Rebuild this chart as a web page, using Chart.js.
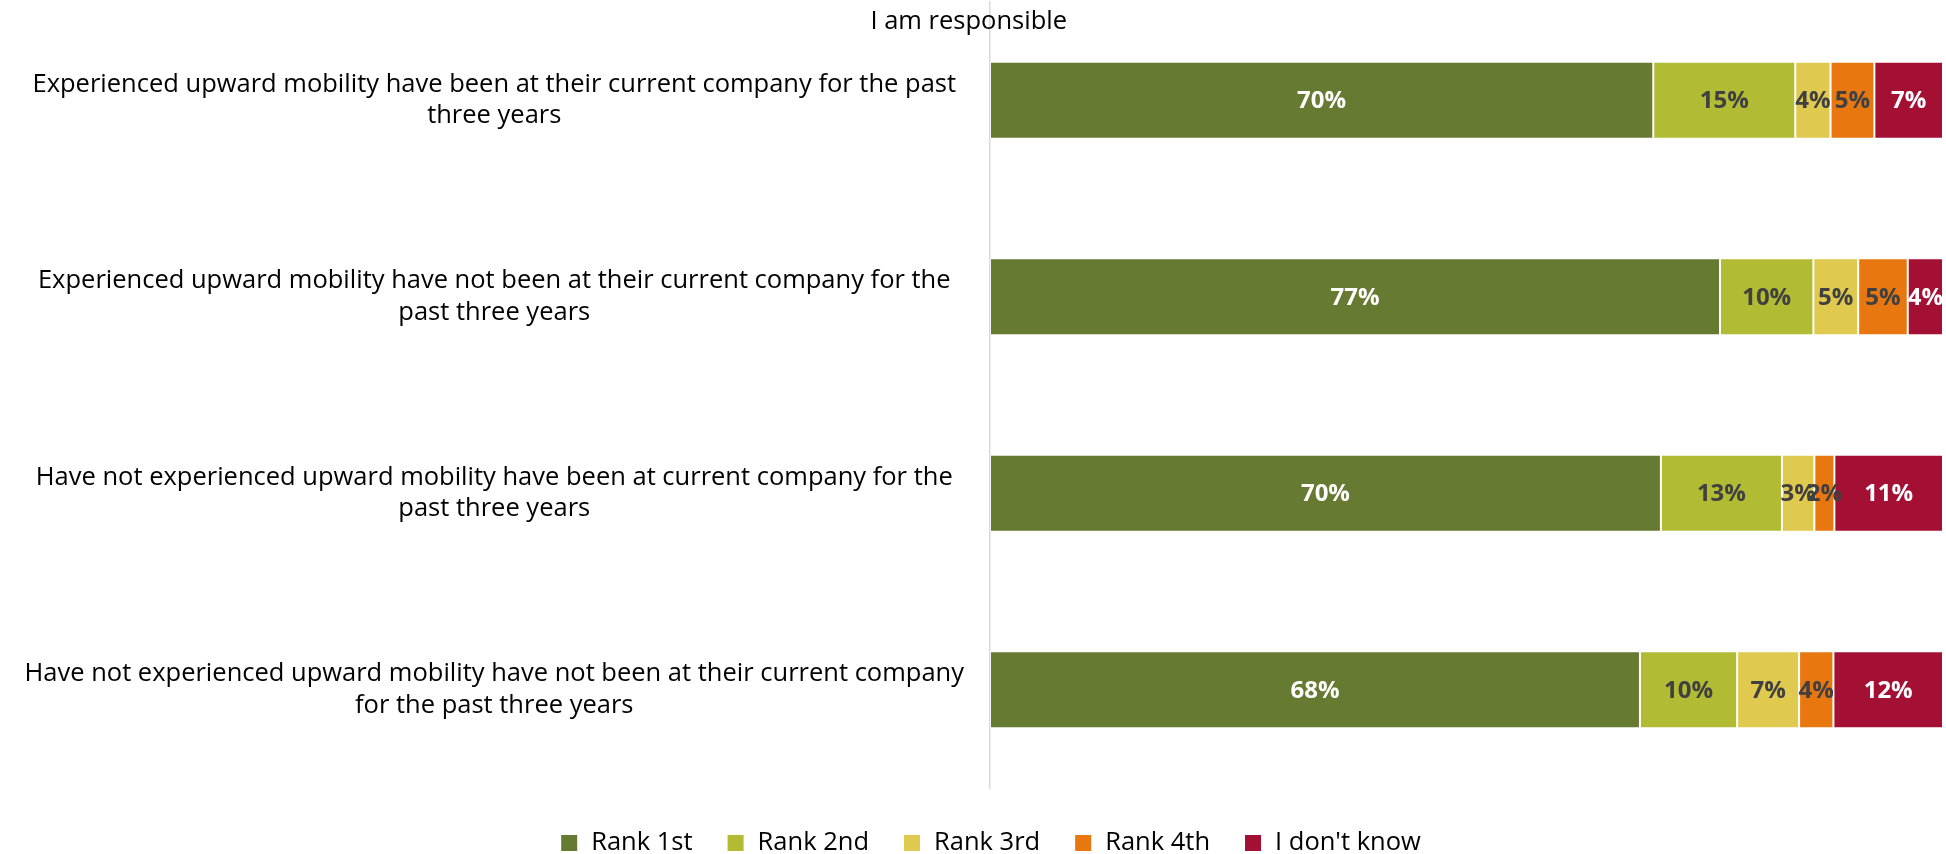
<!DOCTYPE html>
<html>
<head>
<meta charset="utf-8">
<title>I am responsible</title>
<script src="https://cdn.jsdelivr.net/npm/chart.js@4.4.0/dist/chart.umd.min.js"></script>
<style>
  html, body { margin: 0; padding: 0; background: #fff; }
  #wrap { width: 1946px; height: 854px; }
</style>
</head>
<body>
<div id="wrap"><canvas id="chart" width="1946" height="854"></canvas></div>
<script>
// categories (two lines each, as in the original)
const CATEGORIES = [
  ["Experienced upward mobility have been at their current company for the past", "three years"],
  ["Experienced upward mobility have not been at their current company for the", "past three years"],
  ["Have not experienced upward mobility have been at current company for the", "past three years"],
  ["Have not experienced upward mobility have not been at their current company", "for the past three years"]
];

// shares in %
const RANK_1ST = [69.6, 76.6, 70.4, 68.2];
const RANK_2ND = [14.9, 9.8, 12.7, 10.2];
const RANK_3RD = [3.7, 4.7, 3.4, 6.5];
const RANK_4TH = [4.6, 5.2, 2.1, 3.6];
const DONT_KNOW = [7.2, 3.7, 11.4, 11.5];

const SERIES_NAMES = ["Rank 1st", "Rank 2nd", "Rank 3rd", "Rank 4th", "I don't know"];
const SERIES_COLORS = ["#667a32", "#b1bb33", "#dfc94e", "#e8770f", "#a31034"];
const LABEL_COLORS = ["#ffffff", "#404040", "#404040", "#404040", "#ffffff"];

const TITLE = "I am responsible";
const FONT = "'Open Sans', 'Noto Sans', sans-serif";
const FONT_SIZE = 25.5;

const seriesValues = [RANK_1ST, RANK_2ND, RANK_3RD, RANK_4TH, DONT_KNOW];

// percent labels centred in each segment
const barLabels = {
  id: "barLabels",
  afterDatasetsDraw(chart){
    const ctx = chart.ctx;
    ctx.save();
    ctx.font = "bold 24px " + FONT;
    ctx.textAlign = "center";
    ctx.textBaseline = "middle";
    chart.data.datasets.forEach((ds, di) => {
      const meta = chart.getDatasetMeta(di);
      meta.data.forEach((bar, i) => {
        const v = ds.data[i];
        ctx.fillStyle = LABEL_COLORS[di];
        ctx.fillText(Math.round(v) + "%", (bar.x + bar.base)/2, bar.y + 1);
      });
    });
    ctx.restore();
  }
};

// title sits above the axis line, like the original
const topTitle = {
  id: "topTitle",
  afterDraw(chart){
    const ctx = chart.ctx;
    ctx.save();
    ctx.font = FONT_SIZE + "px " + FONT;
    ctx.fillStyle = "#000";
    ctx.textAlign = "right";
    ctx.textBaseline = "middle";
    ctx.fillText(TITLE, chart.chartArea.left + 77, 22);
    ctx.restore();
  }
};

// legend row under the plot
const bottomLegend = {
  id: "bottomLegend",
  afterDraw(chart){
    const ctx = chart.ctx;
    const box = 16, gapText = 14, gapItem = 35;
    ctx.save();
    ctx.font = FONT_SIZE + "px " + FONT;
    ctx.textBaseline = "middle";
    const items = chart.data.datasets.map(ds => ({text: ds.label, color: ds.backgroundColor, w: ctx.measureText(ds.label).width}));
    const total = items.reduce((a, it) => a + box + gapText + it.w, 0) + gapItem * (items.length - 1);
    let x = 991 - total/2;
    const y = 843;
    items.forEach(it => {
      ctx.fillStyle = it.color;
      ctx.fillRect(x, y - box/2, box, box);
      ctx.fillStyle = "#000";
      ctx.textAlign = "left";
      ctx.fillText(it.text, x + box + gapText, y);
      x += box + gapText + it.w + gapItem;
    });
    ctx.restore();
  }
};

new Chart(document.getElementById("chart"), {
  type: "bar",
  data: {
    labels: CATEGORIES,
    datasets: SERIES_NAMES.map((name, i) => ({
      label: name,
      data: seriesValues[i],
      backgroundColor: SERIES_COLORS[i],
      borderColor: "rgba(255,255,255,0.5)",
      borderWidth: 1,
      borderSkipped: false,
      categoryPercentage: 0.8,
      barPercentage: 0.49
    }))
  },
  options: {
    indexAxis: "y",
    responsive: false,
    animation: false,
    layout: { padding: { top: 2, bottom: 66, right: 3, left: 0 } },
    plugins: {
      legend: { display: false },
      title: { display: false },
      tooltip: { enabled: false }
    },
    scales: {
      x: {
        stacked: true,
        min: 0,
        max: 100,
        display: false
      },
      y: {
        stacked: true,
        grid: { display: false, drawTicks: false },
        border: { display: true, color: "#d9d9d9", width: 1.5 },
        ticks: {
          crossAlign: "center",
          padding: 26,
          color: "#000",
          font: { family: FONT, size: FONT_SIZE, lineHeight: 1.25 },
          autoSkip: false
        },
        afterFit(scale){
          scale.width = 990;
          scale.paddingTop = 0;
          scale.paddingBottom = 0;
        }
      }
    }
  },
  plugins: [barLabels, topTitle, bottomLegend]
});
</script>
</body>
</html>
